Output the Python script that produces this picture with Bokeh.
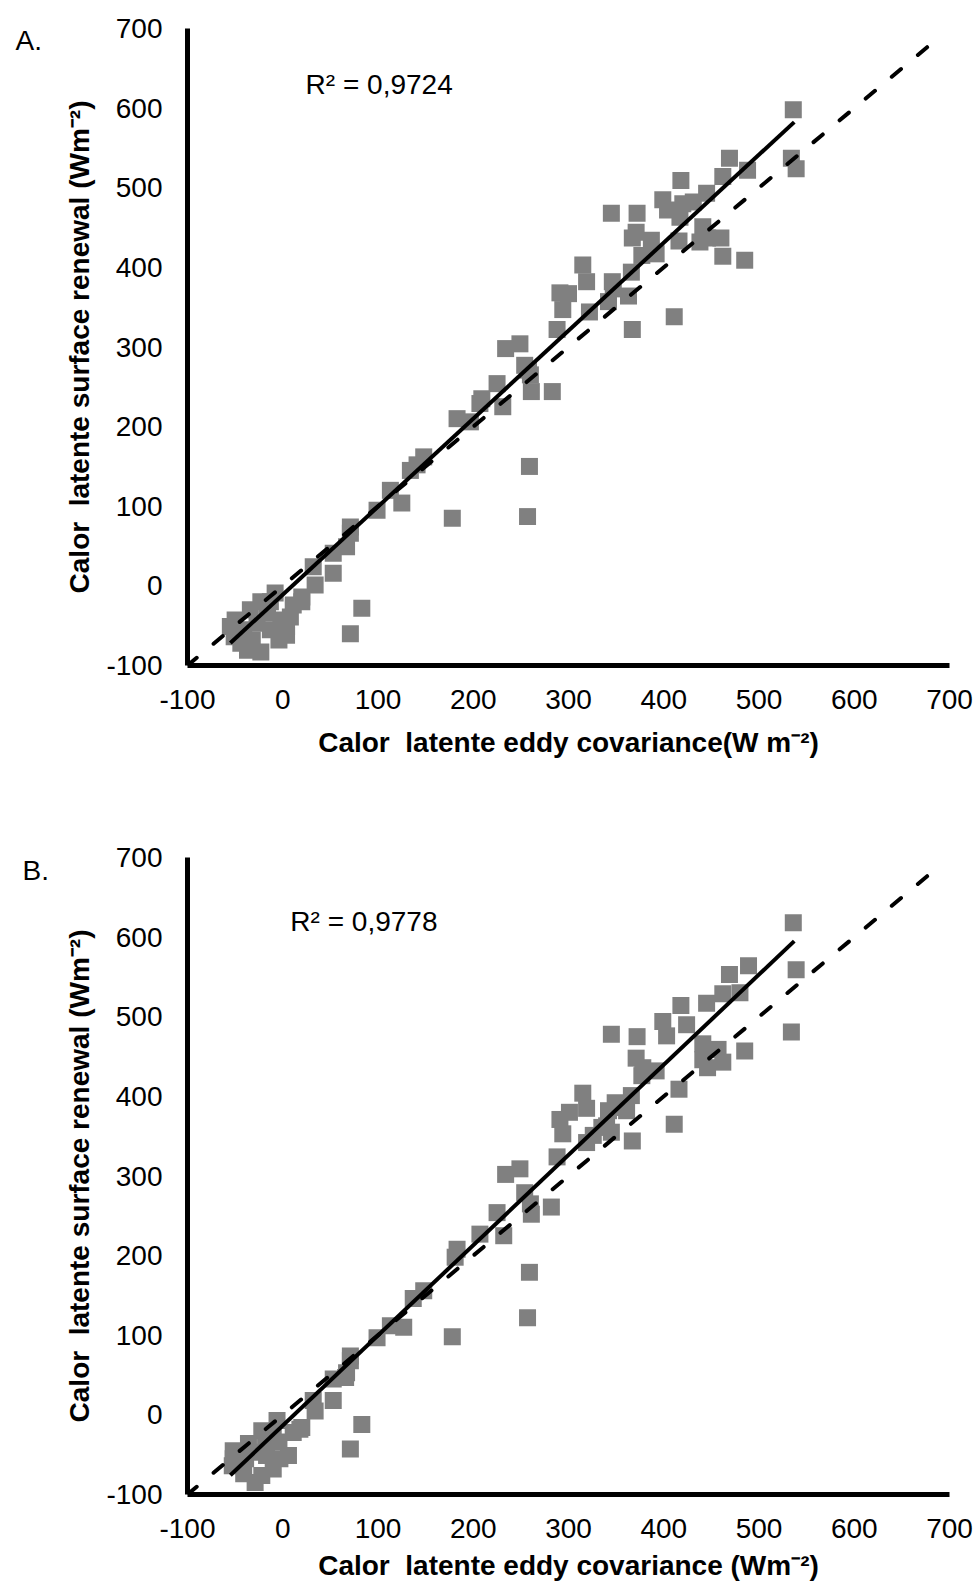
from bokeh.plotting import figure
from bokeh.models import Range1d, FixedTicker, Label
from bokeh.layouts import column, row
from bokeh.embed import file_html
from bokeh.resources import INLINE

# ---------------- data ----------------
tick_values = [-100, 0, 100, 200, 300, 400, 500, 600, 700]
one_to_one = [-100, 690]

# Panel A
a_x = [536, 469, 534, 539, 488, 462, 418, 445, 399, 420, 431, 404, 417, 345, 372, 371, 367, 387,
       441, 446, 460, 416, 438, 462, 485, 377, 392, 366, 315, 319, 346, 363, 342, 347, 291, 300,
       294, 322, 411, 288, 367, 234, 249, 254, 260, 258, 225, 261, 283, 209, 231, 207, 183, 197,
       259, 257, 178, 148, 141, 134, 113, 125, 99, 71, 71, 67, 53, 53, 32, 34, 20, 83, 71,
       20, 8, 4, -8, -13, -23, -34, -50, -51, -37, -23, -4, 4, -13, -27, -41, -44, -16, -2, 11,
       -55, -32]
a_y = [598, 537, 537, 524, 522, 514, 509, 493, 485, 480, 482, 472, 463, 468, 468, 444, 437, 434,
       451, 437, 437, 433, 432, 414, 409, 415, 417, 394, 403, 382, 382, 364, 357, 373, 368, 367,
       347, 344, 338, 322, 322, 298, 304, 277, 265, 271, 254, 244, 244, 235, 225, 229, 210, 206,
       150, 87, 85, 162, 152, 145, 120, 104, 95, 74, 66, 49, 41, 16, 24, 1, -14, -28, -60,
       -20, -39, -51, -9, -20, -20, -30, -43, -64, -81, -83, -68, -62, -55, -47, -55, -72, -34, -43, -24,
       -51, -68]
a_slope, a_intercept = 1.105, -11.0
a_fit_x = [-55, 537]
a_r2 = "R² = 0,9724"

# Panel B
b_x = [536, 539, 534, 489, 469, 480, 462, 445, 418, 399, 424, 403, 345, 372, 441, 457, 485, 441,
       462, 446, 371, 378, 392, 377, 416, 411, 315, 319, 301, 291, 349, 366, 361, 342, 350, 294,
       340, 335, 345, 326, 367, 288, 319, 234, 249, 254, 260, 225, 282, 261, 232, 207, 183, 181,
       259, 257, 178, 148, 137, 127, 113, 99, 71, 71, 66, 67, 53, 53, 34, 32, 20, 83, 71,
       18, 6, -6, 11, -10, -22, -36, -52, -53, -41, -29, -22, -10, -3, -17, -29, -39, -4, -18, -52]
b_y = [618, 559, 481, 564, 553, 530, 529, 517, 514, 494, 490, 476, 478, 475, 466, 459, 457, 446,
       443, 436, 448, 436, 432, 426, 409, 365, 404, 385, 380, 371, 392, 401, 382, 382, 386, 353,
       363, 361, 355, 351, 344, 324, 342, 302, 309, 279, 265, 254, 261, 252, 225, 227, 208, 198,
       179, 122, 98, 156, 146, 110, 112, 97, 74, 68, 47, 53, 45, 18, 5, 18, -16, -12, -43,
       -18, -51, -7, -22, -24, -20, -36, -45, -64, -74, -85, -76, -68, -55, -51, -47, -55, -34, -39, -55]
b_slope, b_intercept = 1.133, -13.5
b_fit_x = [-55, 537]
b_r2 = "R² = 0,9778"

panel_letters = ["A.", "B."]

x_title_a = "Calor\u00a0 latente eddy covariance(W m⁻²)"
x_title_b = "Calor\u00a0 latente eddy covariance (Wm⁻²)"
y_title = "Calor\u00a0 latente surface renewal (Wm⁻²)"

FONT = "Liberation Sans"
LEFT_W = 60


def make_panel(xs, ys, slope, intercept, fit_x, r2_text, r2_pos, x_title,
               border_top, border_bottom, title_standoff):
    p = figure(frame_width=762, frame_height=637,
               x_range=Range1d(-100, 700), y_range=Range1d(-100, 700),
               output_backend="svg", toolbar_location=None,
               min_border_left=187 - LEFT_W, min_border_right=29,
               min_border_top=border_top, min_border_bottom=border_bottom)
    p.outline_line_color = None
    p.grid.visible = False
    p.background_fill_color = "white"
    p.border_fill_color = "white"

    for ax in (p.xaxis[0], p.yaxis[0]):
        ax.ticker = FixedTicker(ticks=tick_values)
        ax.major_label_overrides = {-100: "-100"}
        ax.axis_line_width = 5
        ax.axis_line_color = "black"
        ax.major_tick_line_color = None
        ax.minor_tick_line_color = None
        ax.major_tick_out = 0
        ax.major_tick_in = 0
        ax.major_label_text_font = FONT
        ax.major_label_text_font_size = "28px"
        ax.major_label_text_color = "black"
        ax.axis_label_text_font = FONT
        ax.axis_label_text_font_size = "28px"
        ax.axis_label_text_font_style = "bold"
        ax.axis_label_text_color = "black"

    p.xaxis.major_label_standoff = 24
    p.yaxis.major_label_standoff = 25
    p.xaxis.axis_label = x_title
    p.yaxis.axis_label = y_title
    p.xaxis.axis_label_standoff = title_standoff
    p.yaxis.axis_label_standoff = 8

    p.scatter(xs, ys, marker="square", size=17, fill_color="#808080", line_color=None)

    fit_y = [slope * v + intercept for v in fit_x]
    p.line(fit_x, fit_y, line_color="black", line_width=4)
    p.line(one_to_one, one_to_one, line_color="black", line_width=4,
           line_dash="12 22", line_cap="round")

    p.add_layout(Label(x=r2_pos[0], y=r2_pos[1], text=r2_text, text_font=FONT,
                       text_font_size="28px", text_baseline="middle", text_align="left",
                       text_color="black"))
    return p


pA = make_panel(a_x, a_y, a_slope, a_intercept, a_fit_x, a_r2, (24, 630), x_title_a, 28, 128, 15)
pB = make_panel(b_x, b_y, b_slope, b_intercept, b_fit_x, b_r2, (8, 620), x_title_b, 64, 88, 9)

# narrow strip on the left holding the panel letters (pixel coordinates, top-down)
strip = figure(frame_width=LEFT_W, frame_height=1580,
               x_range=Range1d(0, LEFT_W), y_range=Range1d(1580, 0),
               output_backend="svg", toolbar_location=None,
               x_axis_type=None, y_axis_type=None,
               min_border_left=0, min_border_right=0, min_border_top=0, min_border_bottom=0)
strip.outline_line_color = None
strip.grid.visible = False
strip.text(x=[15, 22], y=[40, 870], text=panel_letters, text_font_size="28px",
           text_baseline="middle", text_align="left", text_color="black",
           text_font={"value": FONT})

layout = row(strip, column(pA, pB, spacing=0), spacing=0)
open("out.html", "w").write(file_html(layout, INLINE))
